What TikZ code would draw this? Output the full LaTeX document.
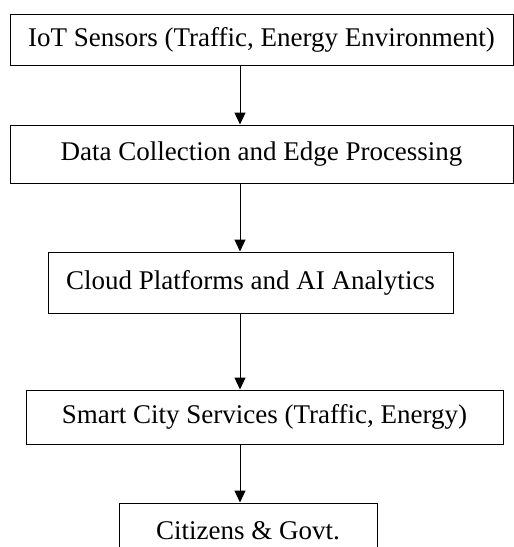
\documentclass[tikz,border=0pt]{standalone}
\usepackage{fontspec}
\setmainfont{Liberation Serif}
\usetikzlibrary{arrows.meta}
\begin{document}
\begin{tikzpicture}[x=1pt,y=-1pt,
  flowbox/.style={draw=black, line width=1pt, inner sep=0pt, anchor=center,
    font=\fontsize{27}{32}\selectfont},
  flowarrow/.style={line width=1pt, -{Triangle[length=12pt,width=11pt]}}]
\useasboundingbox[fill=white] (0,0) rectangle (514,547);
\node[flowbox, minimum width=503pt, minimum height=51pt] (a) at (261.5,40) {IoT Sensors (Traffic, Energy Environment)};
\node[flowbox, minimum width=503pt, minimum height=58pt] (b) at (261.5,154) {Data Collection and Edge Processing};
\node[flowbox, minimum width=405pt, minimum height=61pt] (c) at (250.5,282.5) {Cloud Platforms and AI Analytics};
\node[flowbox, minimum width=477pt, minimum height=54pt] (d) at (264.5,417) {Smart City Services (Traffic, Energy)};
\node[flowbox, minimum width=258pt, minimum height=56pt] (e) at (248,531) {Citizens \& Govt.};
\coordinate (ax) at (240,0);
\draw[flowarrow] (a.south -| ax) -- (b.north -| ax);
\draw[flowarrow] (b.south -| ax) -- (c.north -| ax);
\draw[flowarrow] (c.south -| ax) -- (d.north -| ax);
\draw[flowarrow] (d.south -| ax) -- (e.north -| ax);
\end{tikzpicture}
\end{document}
